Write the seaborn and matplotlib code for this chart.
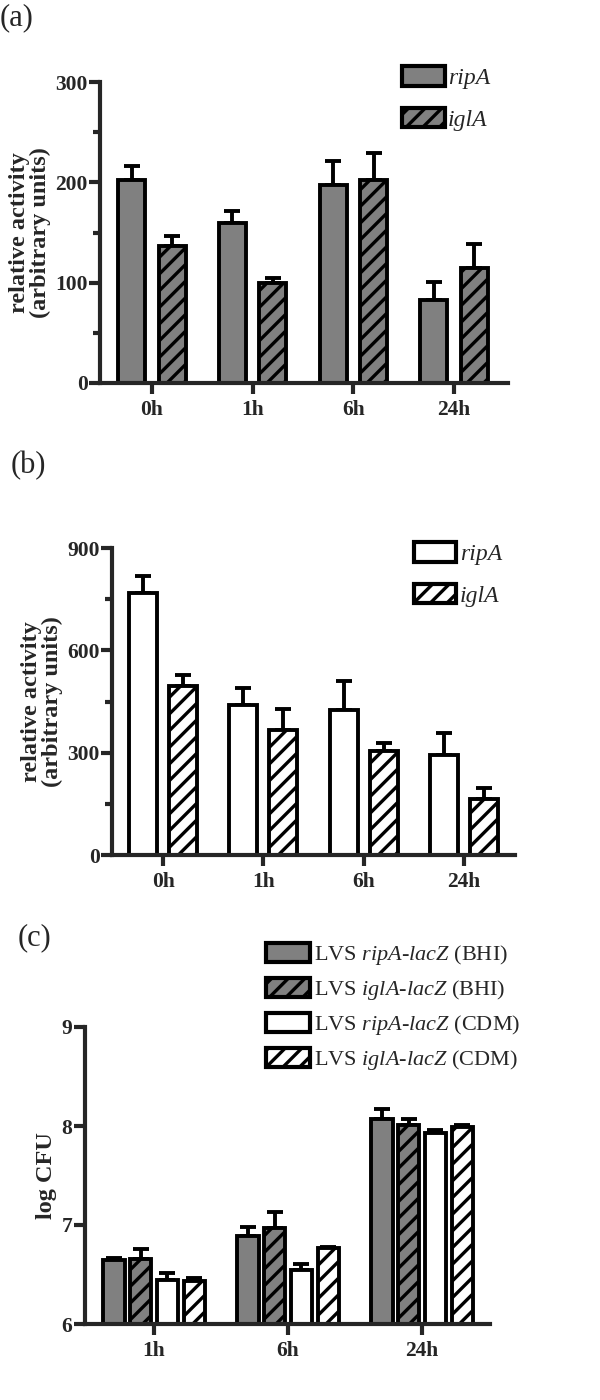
import pandas as pd
import matplotlib
matplotlib.use("Agg")
import matplotlib.pyplot as plt
import matplotlib.patches as mpatches
from matplotlib.ticker import MultipleLocator
import seaborn as sns

# data
times_ab = ["0h", "1h", "6h", "24h"]
genes_ab = ["ripA", "iglA"]

a_ripA = [202, 159, 197, 83]
a_ripA_err = [14, 12, 24, 18]
a_iglA = [137, 100, 202, 115]
a_iglA_err = [10, 5, 27, 24]

b_ripA = [767, 441, 424, 293]
b_ripA_err = [50, 48, 85, 65]
b_iglA = [496, 366, 304, 164]
b_iglA_err = [32, 62, 23, 33]

times_c = ["1h", "6h", "24h"]
strains_c = ["ripA BHI", "iglA BHI", "ripA CDM", "iglA CDM"]
c_ripA_bhi = [6.65, 6.89, 8.07]
c_ripA_bhi_err = [0.02, 0.09, 0.10]
c_iglA_bhi = [6.66, 6.97, 8.01]
c_iglA_bhi_err = [0.10, 0.16, 0.06]
c_ripA_cdm = [6.44, 6.55, 7.93]
c_ripA_cdm_err = [0.08, 0.06, 0.03]
c_iglA_cdm = [6.43, 6.77, 7.99]
c_iglA_cdm_err = [0.03, 0.01, 0.02]

GRAY = "#808080"
EDGE_LW = 2.8
HATCH = "//"

sns.set_style("ticks")
plt.rcParams["font.family"] = ["Liberation Serif", "DejaVu Serif"]
plt.rcParams["mathtext.fontset"] = "custom"
plt.rcParams["mathtext.rm"] = "Liberation Serif"
plt.rcParams["mathtext.it"] = "Liberation Serif:italic"
plt.rcParams["hatch.linewidth"] = 2.4
plt.rcParams["hatch.color"] = "black"


def long_df(times, names, values):
    rows = []
    for name, vals in zip(names, values):
        for t, v in zip(times, vals):
            rows.append({"time": t, "group": name, "value": v})
    return pd.DataFrame(rows)


def draw_panel(ax, times, names, values, errors, fills, hatches, gap, ylim, major, minor, ylabel):
    df = long_df(times, names, values)
    sns.barplot(data=df, x="time", y="value", hue="group", order=times, hue_order=names,
                palette=dict(zip(names, fills)), width=0.8, gap=gap,
                edgecolor="black", linewidth=EDGE_LW, legend=False, ax=ax,
                errorbar=None, saturation=1)
    for cont, hatch, vals, errs in zip(ax.containers, hatches, values, errors):
        xs = []
        for bar in cont:
            bar.set_hatch(hatch)
            bar.set_zorder(2)
            xs.append(bar.get_x() + bar.get_width() / 2)
        ax.errorbar(xs, vals, yerr=[[0] * len(errs), errs], fmt="none", ecolor="black",
                    elinewidth=EDGE_LW, capsize=6, capthick=EDGE_LW, zorder=1)
    ax.set_ylim(*ylim)
    ax.yaxis.set_major_locator(MultipleLocator(major))
    if minor:
        ax.yaxis.set_minor_locator(MultipleLocator(minor))
    ax.set_xlabel("")
    ax.set_ylabel(ylabel, fontsize=17.5, fontweight="bold", labelpad=3, linespacing=1.0)
    sns.despine(ax=ax)
    for s in ["left", "bottom"]:
        ax.spines[s].set_linewidth(3)
    ax.tick_params(axis="both", which="major", width=3, length=8, labelsize=15.5, pad=1)
    ax.tick_params(axis="y", which="minor", width=3, length=5)
    ax.tick_params(axis="x", pad=4)
    for lab in ax.get_xticklabels() + ax.get_yticklabels():
        lab.set_fontweight("bold")


fig = plt.figure(figsize=(6, 14), dpi=100)
W, H = 600, 1400


def add_ax(left, right, top, bottom):
    return fig.add_axes([left / W, 1 - bottom / H, (right - left) / W, (bottom - top) / H])


# (a)
ax_a = add_ax(100, 508, 82, 383)
draw_panel(ax_a, times_ab, genes_ab, [a_ripA, a_iglA], [a_ripA_err, a_iglA_err],
           [GRAY, GRAY], ["", HATCH], 0.33, (0, 300), 100, 50,
           "relative activity\n(arbitrary units)")
ax_a.set_xlim(-0.515, 3.535)

# (b)
ax_b = add_ax(112, 515, 548, 855)
draw_panel(ax_b, times_ab, genes_ab, [b_ripA, b_iglA], [b_ripA_err, b_iglA_err],
           ["white", "white"], ["", HATCH], 0.3, (0, 900), 300, 150,
           "relative activity\n(arbitrary units)")
ax_b.set_xlim(-0.51, 3.51)

# (c)
ax_c = add_ax(85, 490, 1027, 1324)
draw_panel(ax_c, times_c, strains_c,
           [c_ripA_bhi, c_iglA_bhi, c_ripA_cdm, c_iglA_cdm],
           [c_ripA_bhi_err, c_iglA_bhi_err, c_ripA_cdm_err, c_iglA_cdm_err],
           [GRAY, GRAY, "white", "white"], ["", HATCH, "", HATCH], 0.2, (6, 9), 1, None,
           "log CFU")
ax_c.set_xlim(-0.515, 2.507)


def handle(fc, hatch):
    return mpatches.Patch(facecolor=fc, edgecolor="black", linewidth=3, hatch=hatch)


leg_kw = dict(loc="upper left", frameon=False, borderpad=0, borderaxespad=0,
              handletextpad=0.15)

fig.legend([handle(GRAY, ""), handle(GRAY, HATCH)], genes_ab,
           bbox_to_anchor=(402 / W, 1 - 66 / H), labelspacing=0.8,
           handlelength=1.8, handleheight=0.9,
           prop=dict(size=17, style="italic"), **leg_kw)
fig.legend([handle("white", ""), handle("white", HATCH)], genes_ab,
           bbox_to_anchor=(414 / W, 1 - 542 / H), labelspacing=0.8,
           handlelength=1.8, handleheight=0.9,
           prop=dict(size=17, style="italic"), **leg_kw)
labels_c = [r"LVS $\mathit{ripA}$-$\mathit{lacZ}$ (BHI)",
            r"LVS $\mathit{iglA}$-$\mathit{lacZ}$ (BHI)",
            r"LVS $\mathit{ripA}$-$\mathit{lacZ}$ (CDM)",
            r"LVS $\mathit{iglA}$-$\mathit{lacZ}$ (CDM)"]
fig.legend([handle(GRAY, ""), handle(GRAY, HATCH), handle("white", ""), handle("white", HATCH)],
           labels_c, bbox_to_anchor=(266 / W, 1 - 943 / H), labelspacing=0.5,
           handlelength=2.0, handleheight=0.9,
           prop=dict(size=16), **leg_kw)

fig.text(0 / W, 1 - 18 / H, "(a)", fontsize=22, va="center", ha="left")
fig.text(11 / W, 1 - 466 / H, "(b)", fontsize=22, va="center", ha="left")
fig.text(18 / W, 1 - 938 / H, "(c)", fontsize=22, va="center", ha="left")

fig.savefig("out.png", dpi=100)
